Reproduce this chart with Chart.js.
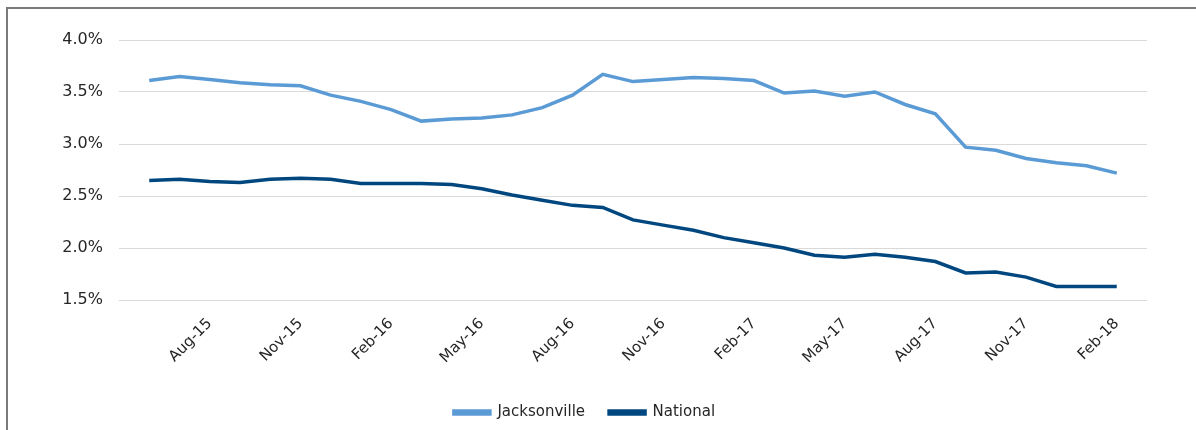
<!DOCTYPE html>
<html>
<head>
<meta charset="utf-8">
<script src="https://cdn.jsdelivr.net/npm/chart.js@4"></script>
<style>
  html, body { margin: 0; padding: 0; background: #fff; overflow: hidden; }
  #wrap { position: relative; width: 1196px; height: 430px; }
  #frame { position: absolute; left: 6px; top: 7px; width: 1300px; height: 600px; border: 2px solid #7a7a7a; }
  canvas { position: absolute; left: 0; top: 0; }
</style>
</head>
<body>
<div id="wrap">
  <div id="frame"></div>
  <canvas id="chart" width="1196" height="430"></canvas>
</div>
<script>
// monthly series, Jun-15 .. Feb-18
const months = [
  'Jun-15', 'Jul-15', 'Aug-15', 'Sep-15', 'Oct-15', 'Nov-15', 'Dec-15',
  'Jan-16', 'Feb-16', 'Mar-16', 'Apr-16', 'May-16', 'Jun-16', 'Jul-16', 'Aug-16', 'Sep-16', 'Oct-16', 'Nov-16', 'Dec-16',
  'Jan-17', 'Feb-17', 'Mar-17', 'Apr-17', 'May-17', 'Jun-17', 'Jul-17', 'Aug-17', 'Sep-17', 'Oct-17', 'Nov-17', 'Dec-17',
  'Jan-18', 'Feb-18'
];

const jacksonville = [
  3.61, 3.65, 3.62, 3.59, 3.57, 3.56, 3.47,
  3.41, 3.33, 3.22, 3.24, 3.25, 3.28, 3.35, 3.47, 3.67, 3.60, 3.62, 3.64,
  3.63, 3.61, 3.49, 3.51, 3.46, 3.50, 3.38, 3.29, 2.97, 2.94, 2.86, 2.82,
  2.79, 2.72
];

const national = [
  2.65, 2.66, 2.64, 2.63, 2.66, 2.67, 2.66,
  2.62, 2.62, 2.62, 2.61, 2.57, 2.51, 2.46, 2.41, 2.39, 2.27, 2.22, 2.17,
  2.10, 2.05, 2.00, 1.93, 1.91, 1.94, 1.91, 1.87, 1.76, 1.77, 1.72, 1.63,
  1.63, 1.63
];

const yTicks = [1.5, 2.0, 2.5, 3.0, 3.5, 4.0];

const lightBlue = '#5b9bd5';
const darkBlue = '#00477f';
const font = '"DejaVu Sans", sans-serif';

function toPoints(arr) {
  return arr.map((v, i) => ({ x: i, y: v }));
}

window.onload = function() {
  const ctx = document.getElementById('chart').getContext('2d');
  new Chart(ctx, {
    type: 'line',
    data: {
      datasets: [
        {
          label: 'Jacksonville',
          data: toPoints(jacksonville),
          borderColor: lightBlue,
          backgroundColor: lightBlue,
          borderWidth: 3.5,
          pointRadius: 0,
          tension: 0
        },
        {
          label: 'National',
          data: toPoints(national),
          borderColor: darkBlue,
          backgroundColor: darkBlue,
          borderWidth: 3.5,
          pointRadius: 0,
          tension: 0
        }
      ]
    },
    options: {
      responsive: false,
      animation: false,
      devicePixelRatio: 1,
      layout: { padding: { left: 22, right: 49, top: 40, bottom: 0 } },
      scales: {
        x: {
          type: 'linear',
          min: -1,
          max: months.length,
          afterFit: function(scale) { scale.height = 81; },
          grid: { display: false },
          border: { display: false },
          ticks: {
            stepSize: 1,
            autoSkip: false,
            maxTicksLimit: 100,
            minRotation: 45,
            maxRotation: 45,
            padding: 7,
            color: '#262626',
            font: { family: font, size: 15 },
            callback: function(v) {
              if (Number.isInteger(v) && v >= 0 && v < months.length && (v - 2) % 3 === 0) return months[v];
              return '';
            }
          }
        },
        y: {
          min: yTicks[0],
          max: yTicks[yTicks.length - 1],
          afterFit: function(scale) { scale.width = 97; },
          afterBuildTicks: function(scale) { scale.ticks = yTicks.map(v => ({ value: v })); },
          grid: { color: '#d9d9d9', lineWidth: 1, drawTicks: false },
          border: { display: false },
          ticks: {
            padding: 16,
            color: '#262626',
            font: { family: font, size: 16 },
            callback: v => v.toFixed(1) + '%'
          }
        }
      },
      plugins: {
        legend: {
          position: 'bottom',
          labels: {
            boxWidth: 36,
            boxHeight: 3,
            padding: 24,
            color: '#262626',
            font: { family: font, size: 15 }
          }
        },
        tooltip: { enabled: false }
      }
    }
  });
};
</script>
</body>
</html>
